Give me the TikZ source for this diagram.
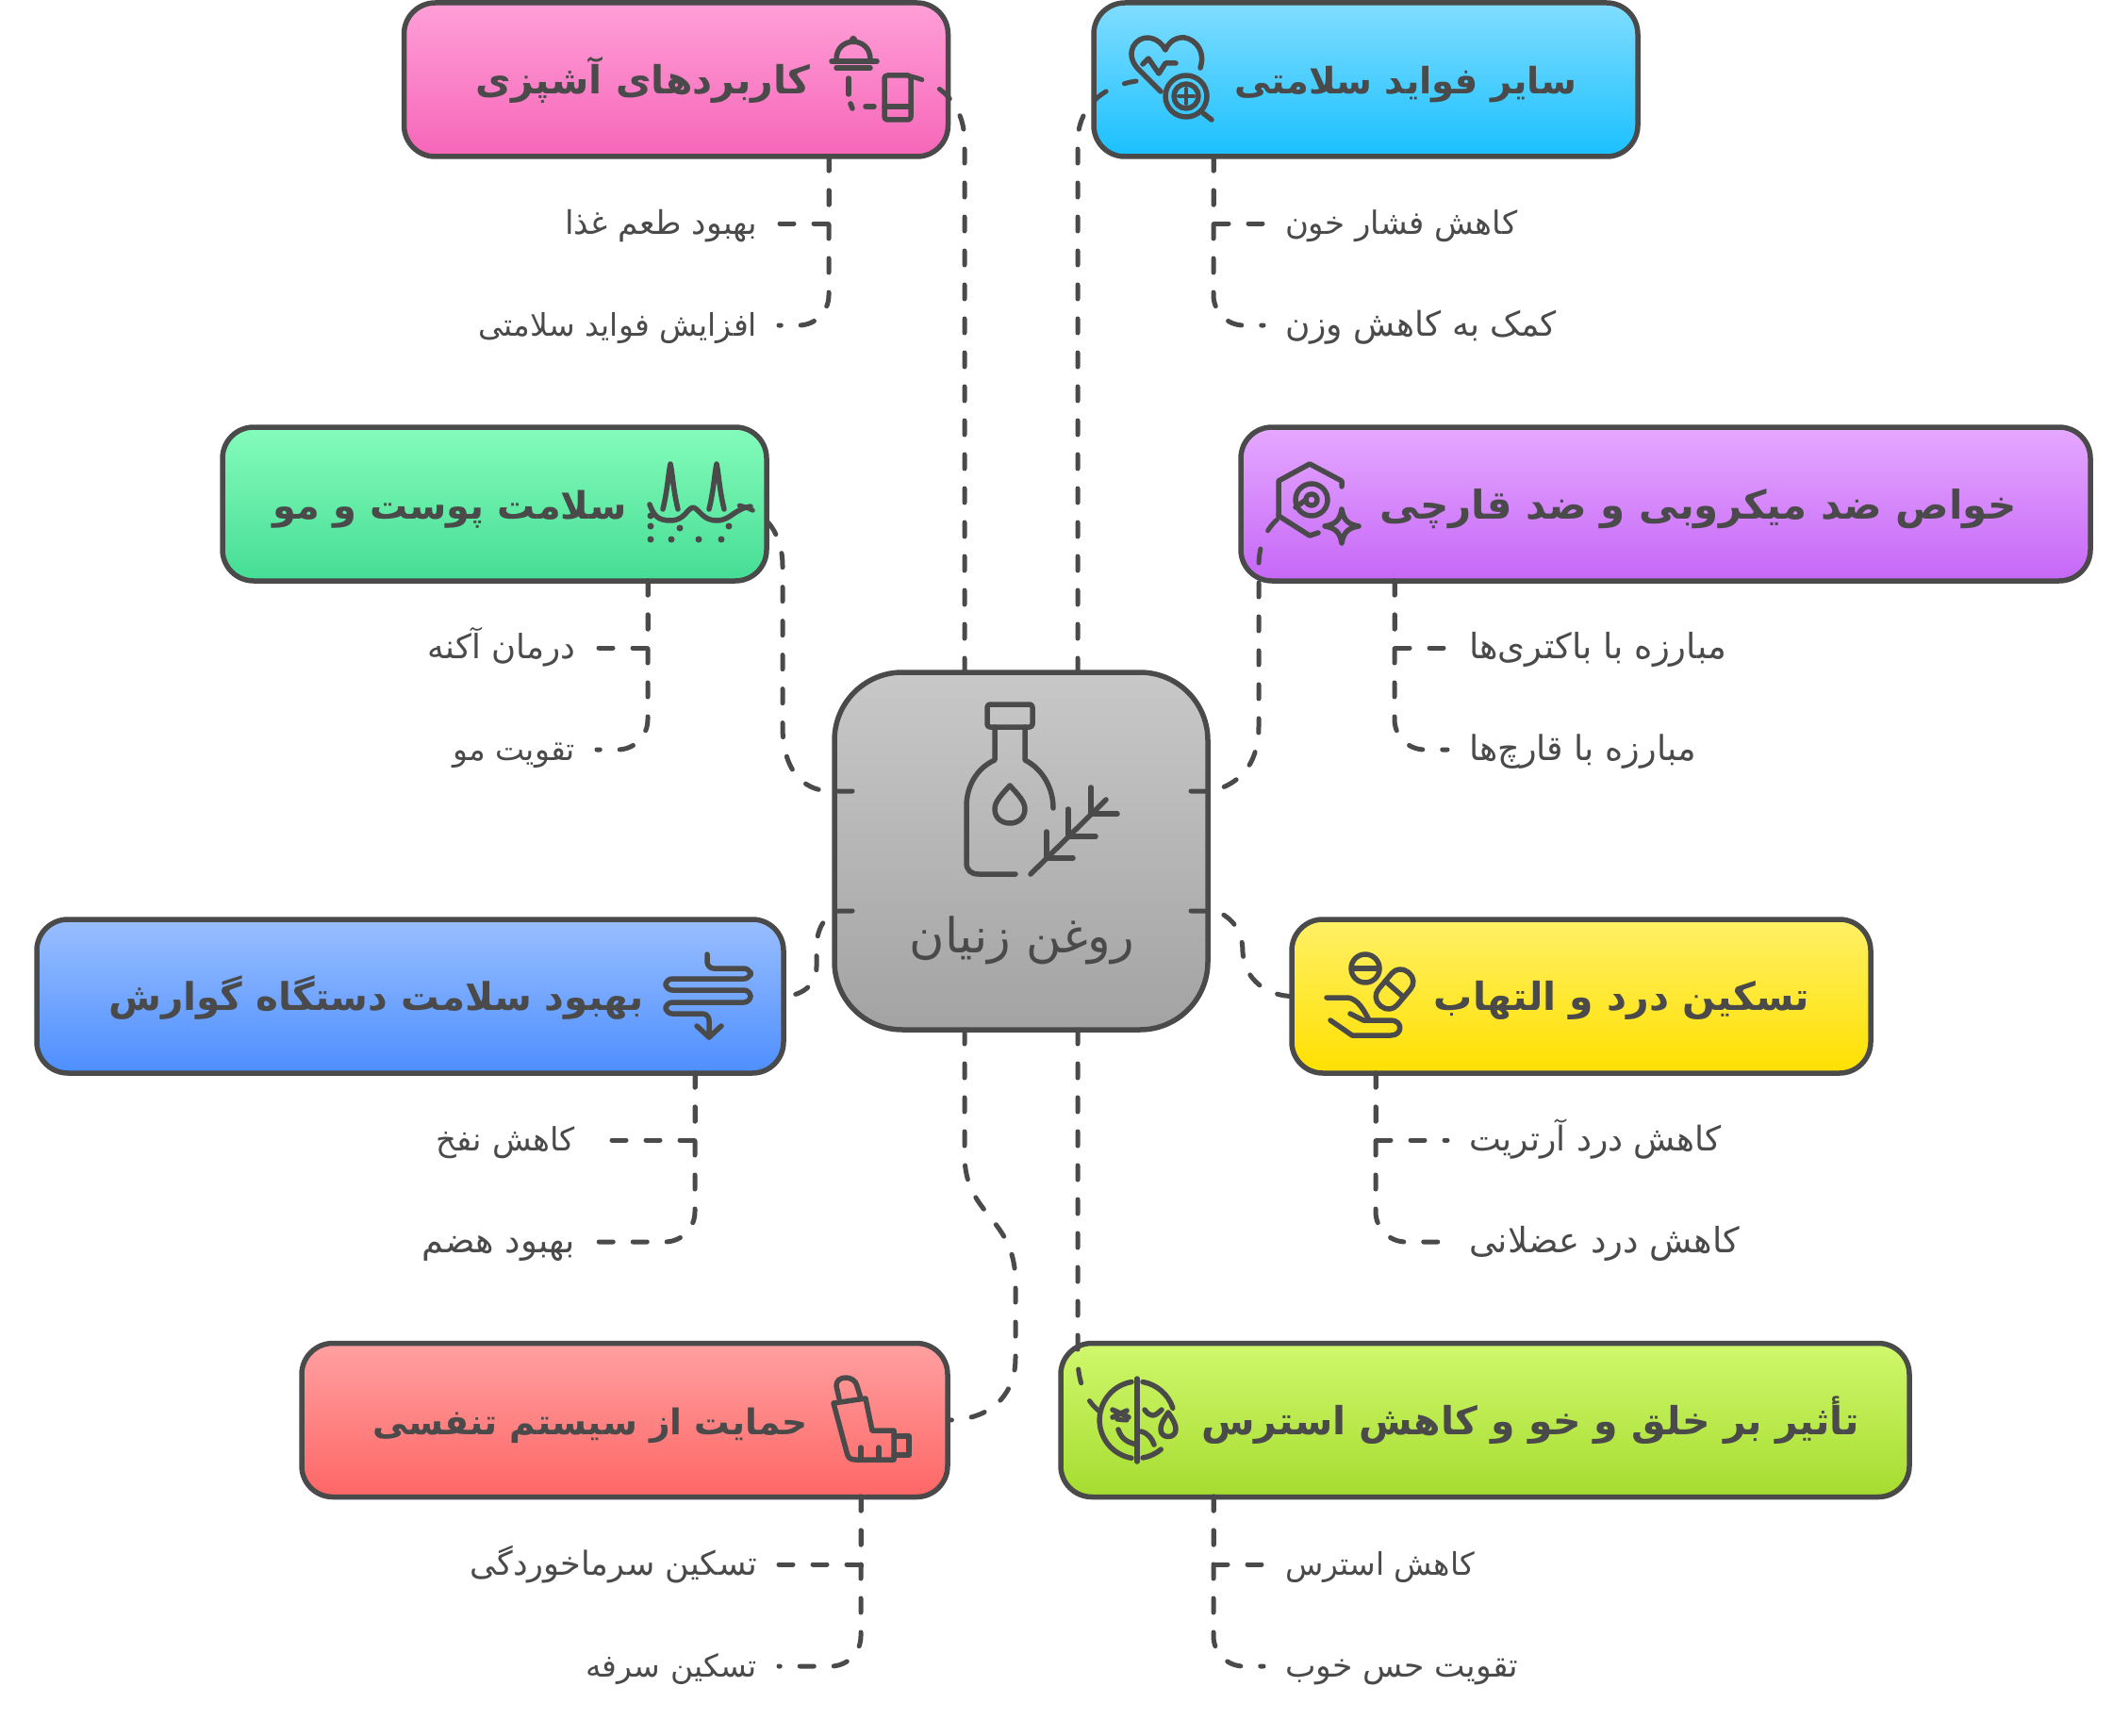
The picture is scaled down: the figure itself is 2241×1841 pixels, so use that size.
\documentclass[tikz,border=0pt]{standalone}
\usepackage{fontspec}
\newfontfamily\fafont[Script=Arabic]{DejaVu Sans}
\TeXXeTstate=1
\newcommand{\fatxt}[1]{\fafont\beginR #1\endR}
\definecolor{ink}{HTML}{4A4A4A}
\tikzset{
  box/.style={draw=ink, line width=5.5pt, rounded corners=33pt, minimum height=163pt, inner sep=0pt, outer sep=0pt},
  title/.style={text=ink, inner sep=0pt, text height=34pt, text depth=6pt, font=\fontsize{#1}{44}\selectfont\bfseries},
  title/.default=41,
  leaf/.style={text=ink, inner ysep=0pt, inner xsep=23pt, outer sep=0pt, text height=28pt, text depth=6pt, font=\fontsize{#1}{40}\selectfont},
  link/.style={draw=ink, line width=5pt, line cap=round, dash pattern=on 15pt off 21pt},
  icon/.style={draw=ink, line width=5.5pt, line cap=round, line join=round},
}
\definecolor{pinkA}{RGB}{255,159,216}\definecolor{pinkB}{RGB}{246,102,184}
\definecolor{skyA}{RGB}{128,221,255}\definecolor{skyB}{RGB}{26,192,255}
\definecolor{mintA}{RGB}{133,252,187}\definecolor{mintB}{RGB}{69,221,148}
\definecolor{violetA}{RGB}{229,168,255}\definecolor{violetB}{RGB}{198,103,247}
\definecolor{blueA}{RGB}{153,190,255}\definecolor{blueB}{RGB}{77,143,255}
\definecolor{sunA}{RGB}{255,240,102}\definecolor{sunB}{RGB}{255,224,0}
\definecolor{coralA}{RGB}{255,160,160}\definecolor{coralB}{RGB}{255,102,102}
\definecolor{limeA}{RGB}{208,248,108}\definecolor{limeB}{RGB}{165,220,47}
\definecolor{oilA}{RGB}{200,200,200}\definecolor{oilB}{RGB}{163,163,163}
\begin{document}
\begin{tikzpicture}[x=1pt, y=-1pt]
\useasboundingbox (0,0) rectangle (2241,1841);
\node at (717,84.5) [box, minimum width=577pt, top color=pinkA, bottom color=pinkB] (pink) {};
\node at (1448.5,84.5) [box, minimum width=577pt, top color=skyA, bottom color=skyB] (sky) {};
\node at (524.5,534.5) [box, minimum width=577pt, top color=mintA, bottom color=mintB] (mint) {};
\node at (1766.5,534.5) [box, minimum width=901pt, top color=violetA, bottom color=violetB] (violet) {};
\node at (435,1056.5) [box, minimum width=792pt, top color=blueA, bottom color=blueB] (blue) {};
\node at (1677,1056.5) [box, minimum width=614pt, top color=sunA, bottom color=sunB] (sun) {};
\node at (662.5,1506) [box, minimum width=685pt, top color=coralA, bottom color=coralB] (coral) {};
\node at (1575,1506) [box, minimum width=900pt, top color=limeA, bottom color=limeB] (lime) {};
\node at (1083,902.5) [box, rounded corners=72pt, minimum width=396pt, minimum height=379pt, top color=oilA, bottom color=oilB] (oil) {};

\node at (682,86) [title] (pinkT) {\fatxt{کاربردهای آشپزی}};
\node at (1491,86) [title=38.5] (skyT) {\fatxt{سایر فواید سلامتی}};
\node at (477,536) [title=40] (mintT) {\fatxt{سلامت پوست و مو}};
\node at (1801,536) [title=42] (violetT) {\fatxt{خواص ضد میکروبی و ضد قارچی}};
\node at (399,1057) [title=40.5] (blueT) {\fatxt{بهبود سلامت دستگاه گوارش}};
\node at (1720,1057) [title] (sunT) {\fatxt{تسکین درد و التهاب}};
\node at (626,1507) [title=37.5] (coralT) {\fatxt{حمایت از سیستم تنفسی}};
\node at (1623,1507) [title] (limeT) {\fatxt{تأثیر بر خلق و خو و کاهش استرس}};
\node at (1084,990) [title=51, text height=46pt, font=\fontsize{51}{60}\selectfont\mdseries] (oilT) {\fatxt{روغن زنیان}};

\node at (826,237) [leaf=34.5, anchor=east] (pinkA) {\fatxt{بهبود طعم غذا}};
\node at (826,345) [leaf=33, anchor=east] (pinkB) {\fatxt{افزایش فواید سلامتی}};
\node at (1340,237) [leaf=34, anchor=west] (skyA) {\fatxt{کاهش فشار خون}};
\node at (1340,345) [leaf=36, anchor=west] (skyB) {\fatxt{کمک به کاهش وزن}};
\node at (633,687) [leaf=35.5, anchor=east] (mintA) {\fatxt{درمان آکنه}};
\node at (633,795) [leaf=33, anchor=east] (mintB) {\fatxt{تقویت مو}};
\node at (1535,687) [leaf=37, anchor=west] (violetA) {\fatxt{مبارزه با باکتری‌ها}};
\node at (1535,795) [leaf=36.5, anchor=west] (violetB) {\fatxt{مبارزه با قارچ‌ها}};
\node at (633,1209) [leaf=34, anchor=east] (blueA) {\fatxt{کاهش نفخ}};
\node at (633,1317) [leaf=37, anchor=east] (blueB) {\fatxt{بهبود هضم}};
\node at (1535,1209) [leaf=36, anchor=west] (sunA) {\fatxt{کاهش درد آرتریت}};
\node at (1535,1317) [leaf=37, anchor=west] (sunB) {\fatxt{کاهش درد عضلانی}};
\node at (826,1659) [leaf=35, anchor=east] (coralA) {\fatxt{تسکین سرماخوردگی}};
\node at (826,1767) [leaf=33, anchor=east] (coralB) {\fatxt{تسکین سرفه}};
\node at (1340,1659) [leaf=33, anchor=west] (limeA) {\fatxt{کاهش استرس}};
\node at (1340,1767) [leaf=34.5, anchor=west] (limeB) {\fatxt{تقویت حس خوب}};

\coordinate (pinkS) at (879,166);
\coordinate (skyS) at (1287,166);
\coordinate (mintS) at (687,616);
\coordinate (violetS) at (1479,616);
\coordinate (blueS) at (737,1138);
\coordinate (sunS) at (1459,1138);
\coordinate (coralS) at (913,1587);
\coordinate (limeS) at (1287,1587);

\foreach \n in {pink,sky,mint,violet,blue,sun,coral,lime}{
  \draw[link] (\n S) |- (\n A);
  \draw[link, rounded corners=32pt] (\n S) |- (\n B);
}

\coordinate (oilN1) at (1023,713);
\coordinate (oilN2) at (1143,713);
\coordinate (oilS1) at (1023,1092);
\coordinate (oilS2) at (1143,1092);
\coordinate (oilW1) at (904,839);
\coordinate (oilW2) at (904,966);
\coordinate (oilE1) at (1263,839);
\coordinate (oilE2) at (1263,966);
\coordinate (pinkIn) at (966,81);
\coordinate (skyIn) at (1205,86);
\coordinate (mintIn) at (778,535);
\coordinate (violetIn) at (1357,549);
\coordinate (limeIn) at (1195,1506);

\draw[link] (oilN1) -- (1023,150) .. controls (1023,118) and (1005,90) .. (pinkIn);
\draw[link] (oilN2) -- (1143,150) .. controls (1143,118) and (1165,92) .. (skyIn);
\draw[link] (oilW1) -- (880,839) .. controls (850,838) and (830,815) .. (830,770) -- (830,600) .. controls (830,570) and (815,540) .. (mintIn);
\draw[link] (oilE1) -- (1285,839) .. controls (1320,830) and (1335,805) .. (1335,770) -- (1335,600) .. controls (1335,575) and (1345,558) .. (violetIn);
\draw[link] (oilW2) -- (890,966) .. controls (875,970) and (866,985) .. (866,1005) -- (866,1025) .. controls (866,1045) and (850,1056) .. (blue.east);
\draw[link] (oilE2) -- (1290,966) .. controls (1310,975) and (1318,990) .. (1318,1010) .. controls (1320,1040) and (1345,1056) .. (sun.west);
\draw[link] (oilS1) -- (1023,1225) .. controls (1023,1290) and (1077,1290) .. (1077,1360) -- (1077,1440) .. controls (1077,1480) and (1050,1506) .. (coral.east);
\draw[link] (oilS2) -- (1143,1440) .. controls (1143,1475) and (1160,1506) .. (limeIn);

% bottle
\draw[icon, rounded corners=3pt] (1047,747) rectangle (1095,771);
\draw[icon] (1055,771) -- (1055,806) .. controls (1035,815) and (1025,835) .. (1025,855) -- (1025,915) .. controls (1025,923) and (1030,927) .. (1038,927) -- (1077,927);
\draw[icon] (1087,771) -- (1087,806) .. controls (1105,815) and (1117,835) .. (1117,857);
\draw[icon] (1071,833) .. controls (1062,843) and (1055,850) .. (1055,858) .. controls (1055,878) and (1087,878) .. (1087,858) .. controls (1087,850) and (1080,843) .. (1071,833);
\draw[icon] (1093,927) -- (1173,848);
\draw[icon] (1110,882) -- (1110,910) -- (1138,910);
\draw[icon] (1133,858) -- (1133,887) -- (1162,887);
\draw[icon] (1157,835) -- (1157,863) -- (1185,863);

% cloche and phone
\draw[icon, fill=ink] (905,42) circle (1.5pt);
\draw[icon] (887,63) .. controls (887,38) and (923,38) .. (923,63);
\draw[icon] (882,65) -- (930,65);
\draw[icon] (887,72) -- (923,72);
\draw[icon] (900,83) -- (900,100);
\draw[icon] (902,110) -- (904,115);
\draw[icon] (918,113) -- (927,113);
\draw[icon, rounded corners=3pt] (938,80) rectangle (966,127);
\draw[icon] (938,113) -- (966,113);

% heart and lens
\draw[icon] (1273,72) .. controls (1280,50) and (1262,38) .. (1252,40) .. controls (1244,41) and (1238,47) .. (1236,53) .. controls (1233,47) and (1227,41) .. (1218,40) .. controls (1205,39) and (1192,55) .. (1206,72) -- (1231,97);
\draw[icon] (1212,68) -- (1218,62) -- (1229,78) -- (1236,67) -- (1247,67);
\draw[icon] (1258,102) circle (22pt);
\draw[icon] (1258,102) circle (13pt);
\draw[icon, line width=4pt] (1258,94) -- (1258,110) (1250,102) -- (1266,102);
\draw[icon] (1276,120) -- (1285,127);

% skin and hair
\draw[icon] (703,540) .. controls (708,520) and (709,500) .. (711,492) .. controls (713,500) and (714,520) .. (719,540);
\draw[icon] (752,540) .. controls (757,520) and (758,500) .. (760,492) .. controls (762,500) and (763,520) .. (768,540);
\draw[icon] (689,535) .. controls (693,545) and (696,552) .. (711,552) .. controls (726,552) and (728,540) .. (735,538) .. controls (742,540) and (745,552) .. (760,552) .. controls (775,552) and (778,540) .. (796,537);
\foreach \dx/\dy in {690/547,690/558,721/560,773/558,690/572,712/572,741/572,765/572}{
  \fill[ink] (\dx,\dy) circle (3.5pt);
}

% microbe
\draw[icon] (1356,547) -- (1356,510) -- (1389,492) -- (1423,510) -- (1423,516);
\draw[icon] (1356,547) -- (1389,568) -- (1398,565);
\draw[icon] (1391,530) circle (17pt);
\draw[icon] (1391,530) circle (6pt);
\draw[icon] (1374,538) -- (1385,530);
\draw[icon] (1423,540) .. controls (1425,552) and (1430,556) .. (1441,558) .. controls (1430,560) and (1425,564) .. (1423,576) .. controls (1421,564) and (1416,560) .. (1405,558) .. controls (1416,556) and (1421,552) .. (1423,540);

% gut
\draw[icon, rounded corners=7pt] (750,1012) -- (750,1027) -- (796,1027) -- (796,1038) -- (706,1038) -- (706,1050) -- (796,1050) -- (796,1063) -- (706,1063) -- (706,1075) -- (752,1075) -- (752,1100);
\draw[icon] (739,1088) -- (752,1100) -- (765,1088);

% pills and hand
\draw[icon] (1448,1027) circle (15pt);
\draw[icon] (1434,1027) -- (1462,1027);
\draw[icon, rotate around={50:(1479,1049)}, rounded corners=12pt] (1456,1036) rectangle (1502,1062);
\draw[icon] (1470,1041) -- (1488,1057);
\draw[icon] (1407,1058) -- (1430,1058) .. controls (1440,1060) and (1446,1070) .. (1452,1082);
\draw[icon] (1411,1082) -- (1434,1098) -- (1475,1098) .. controls (1488,1098) and (1488,1082) .. (1475,1082) -- (1446,1082) -- (1432,1075);

% inhaler
\draw[icon] (890,1483) -- (887,1470) .. controls (886,1458) and (907,1458) .. (909,1470) -- (913,1483);
\draw[icon] (884,1488) -- (918,1483) -- (925,1517) -- (948,1517) -- (948,1548) -- (907,1548) .. controls (901,1548) and (899,1545) .. (898,1540) -- (884,1488);
\draw[icon] (948,1523) -- (964,1523) -- (964,1543) -- (948,1543);
\draw[icon] (913,1535) -- (913,1548) (932,1535) -- (932,1548);

% two faces
\draw[icon] (1206,1462) -- (1206,1550);
\draw[icon] (1212,1465.5) arc[start angle=80, end angle=18, radius=41pt];
\draw[icon] (1212,1546) arc[start angle=-80, end angle=-50, radius=41pt];
\draw[icon] (1200,1465.5) arc[start angle=100, end angle=260, radius=41pt];
\draw[icon] (1180,1495) -- (1197,1503) (1180,1503) -- (1195,1496);
\draw[icon] (1186,1516) .. controls (1190,1528) and (1198,1530) .. (1206,1532);
\draw[icon] (1214,1495) .. controls (1220,1503) and (1224,1503) .. (1232,1495);
\draw[icon] (1210,1518) .. controls (1218,1520) and (1222,1526) .. (1224,1532);
\draw[icon] (1239,1498) .. controls (1232,1508) and (1231,1512) .. (1231,1516) .. controls (1231,1526) and (1247,1526) .. (1247,1516) .. controls (1247,1512) and (1246,1508) .. (1239,1498);
\end{tikzpicture}
\end{document}
